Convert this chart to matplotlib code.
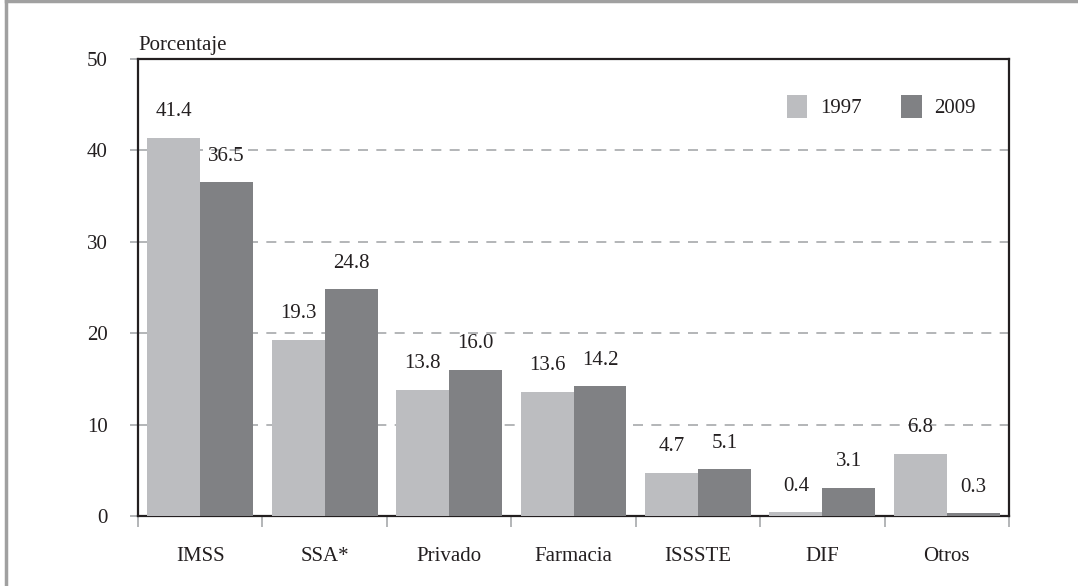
import numpy as np
import matplotlib
matplotlib.use("Agg")
import matplotlib.pyplot as plt
from matplotlib.lines import Line2D

categorias = ["IMSS", "SSA*", "Privado", "Farmacia", "ISSSTE", "DIF", "Otros"]
v1997 = [41.4, 19.3, 13.8, 13.6, 4.7, 0.4, 6.8]
v2009 = [36.5, 24.8, 16.0, 14.2, 5.1, 3.1, 0.3]
etiquetas_y = [0, 10, 20, 30, 40, 50]

plt.rcParams["font.family"] = ["Liberation Serif", "DejaVu Serif"]
c97 = "#bcbdc0"
c09 = "#808184"
texto = "#231f20"

fig = plt.figure(figsize=(10.78, 5.86), dpi=100)
ax = fig.add_axes([138 / 1078, 1 - 516 / 586, (1009 - 138) / 1078, (516 - 59) / 586])

x = np.arange(len(categorias))
w = 0.425
b1 = ax.bar(x - w / 2, v1997, w, color=c97, label="1997", zorder=3)
b2 = ax.bar(x + w / 2, v2009, w, color=c09, label="2009", zorder=3)

for barras, vals in [(b1, v1997), (b2, v2009)]:
    for b, v in zip(barras, vals):
        ax.annotate(f"{v:.1f}", (b.get_x() + b.get_width() / 2, v),
                    xytext=(0, 12), textcoords="offset points",
                    ha="center", va="bottom", fontsize=15, color=texto)

ax.set_xlim(-0.5, len(categorias) - 0.5)
ax.set_ylim(0, 50)
ax.set_yticks(etiquetas_y)
ax.set_yticklabels([str(t) for t in etiquetas_y], fontsize=15, color=texto)
for t in etiquetas_y[1:-1]:
    ax.axhline(t, color="#a7a9ac", lw=1.2, ls=(0, (6, 5)), zorder=1)
ax.tick_params(axis="y", length=6, width=1.2, color="#a7a9ac", pad=16)

ax.set_xticks(x)
ax.set_xticklabels(categorias, fontsize=15, color=texto)
ax.set_xticks(np.arange(-0.5, len(categorias), 1), minor=True)
ax.tick_params(axis="x", which="major", length=0, pad=22)
ax.tick_params(axis="x", which="minor", length=8, width=1.2, color="#a7a9ac")

for s in ax.spines.values():
    s.set_linewidth(1.6)
    s.set_color(texto)

ax.text(-0.5, 50.4, "Porcentaje", fontsize=15, color=texto, ha="left", va="bottom")

ax.legend(loc="upper right", bbox_to_anchor=(0.962, 0.922), ncol=2, frameon=False,
          fontsize=15, handlelength=1.0, handleheight=1.35, columnspacing=1.9,
          handletextpad=0.6, borderpad=0, borderaxespad=0, labelcolor=texto)

fig.add_artist(Line2D([6 / 1078, 6 / 1078], [0, 1], color="#a0a0a0", lw=2.5))
fig.add_artist(Line2D([6 / 1078, 1], [1 - 1 / 586, 1 - 1 / 586], color="#a0a0a0", lw=2.5))

fig.savefig("out.png", dpi=100)
